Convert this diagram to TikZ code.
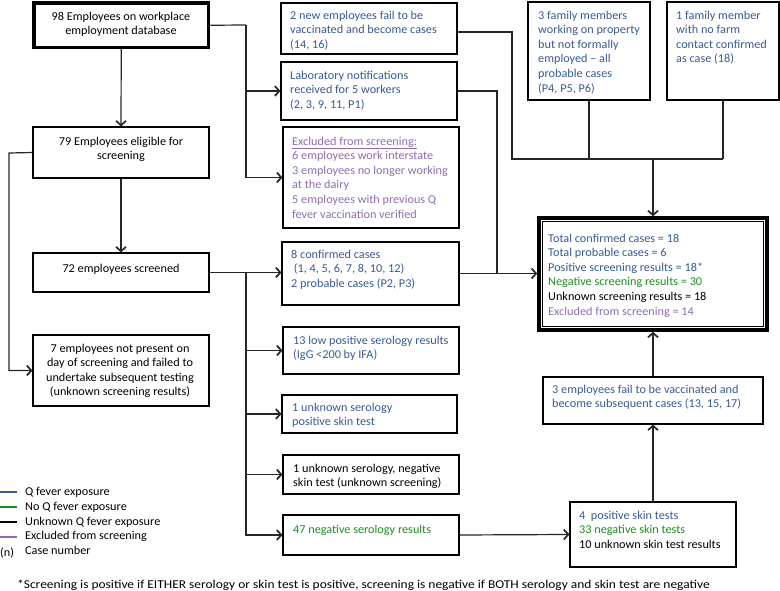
\documentclass[tikz,border=0pt]{standalone}
\usepackage{fontspec}
\setmainfont{Carlito}[FakeStretch=1.02]
\newfontfamily\footfont{Carlito}[FakeStretch=1.12]
\usetikzlibrary{arrows.meta,fit,calc}
\definecolor{qblue}{RGB}{55,90,145}
\definecolor{qgreen}{RGB}{30,140,30}
\definecolor{qpurple}{RGB}{140,110,175}
\newcommand\fs{\fontsize{12}{14.6}\selectfont}
\begin{document}
\begin{tikzpicture}[x=1pt,y=-1pt,
 box/.style={draw=black,line width=1.1pt,inner sep=0pt},
 txt/.style={font=\fs,inner sep=0pt,align=left,anchor=north west,execute at begin node=\strut},
 conn/.style={draw=black!85,line width=1.2pt},
 arr/.style={conn,-{Straight Barb[length=4.5pt,width=10pt,line width=1.7pt]}}]
\useasboundingbox (0,0) rectangle (780,591);

% boxes
\node[box,line width=3.5pt,fit={(34,3)(208.5,47.5)}] (A) {};
\node[box,fit={(33,127)(209,178)}] (B) {};
\node[box,fit={(33,253)(209,292)}] (L) {};
\node[box,fit={(33,335)(209,406)}] (M) {};
\node[box,fit={(281,3)(457,54)}] (C) {};
\node[box,fit={(281,62)(457,120)}] (E) {};
\node[box,fit={(283,127)(459,228)}] (F) {};
\node[box,fit={(282,242)(459,305)}] (G) {};
\node[box,fit={(283,327)(459,374)}] (H) {};
\node[box,fit={(282,395)(457,433)}] (I) {};
\node[box,fit={(283,455)(459,494)}] (J) {};
\node[box,fit={(283,515)(459,555)}] (K) {};
\node[box,fit={(528,2)(650,100)}] (P) {};
\node[box,fit={(667,2)(779,100)}] (Q) {};
\node[box,line width=3.5pt,fit={(539,218)(767,330)}] (D) {};
\node[box,line width=0.8pt,fit={(542.5,221.5)(763.5,326.5)}] (Din) {};
\node[box,fit={(543,377)(763,424)}] (O) {};
\node[box,fit={(570,502)(736,567)}] (N) {};

% connectors
\coordinate (t1) at (246,25);
\draw[conn] (A.east) -- (t1);
\draw[arr] (t1) |- (F.west);
\draw[arr] (t1 |- E.west) -- (E.west);
\draw[arr] (A.south) -- (B.north);
\draw[arr] (B.south) -- (L.north);
\coordinate (lp) at (9,153);
\draw[arr] (B.west) -- (lp) |- (M.west);

\coordinate (t2) at (246,273);
\draw[arr] (L.east) -- (L.east -| G.west);
\draw[arr] (t2) |- (K.west);
\draw[arr] (t2 |- H.west) -- (H.west);
\draw[arr] (t2 |- I.west) -- (I.west);
\draw[arr] (t2 |- J.west) -- (J.west);

\coordinate (c1) at (497,273.5);
\draw[conn] (E.east) -| (c1);
\draw[arr] (G.east) -- (G.east -| D.west);

\coordinate (j1) at (512,159);
\draw[conn] ([yshift=-3.5pt]C.east) -| (j1) -- (j1 -| Q.south);
\draw[conn] (P.south) -- (P.south |- j1);
\draw[conn] (Q.south) -- (Q.south |- j1);
\draw[arr] (j1 -| D.north) -- (D.north);
\draw[arr] (O.north) -- (D.south);
\draw[arr] (N.north) -- (O.south);
\draw[arr] (K.east) -- (N.west);

% texts
\node[txt,anchor=north,align=center] (At) at (121,11.5) {98 Employees on workplace\\employment database};
\node[txt,anchor=north,align=center] (Bt) at (121,136.5) {79 Employees eligible for\\screening};
\node[txt,anchor=north,align=center] (Lt) at (121,262) {72 employees screened};
\node[txt,anchor=north,align=center] (Mt) at (120,343.5) {7 employees not present on\\day of screening and failed to\\undertake subsequent testing\\(unknown screening results)};
\node[txt,text=qblue] (Ct) at (290,10.5) {2 new employees fail to be\\vaccinated and become cases\\(14, 16)};
\node[txt,text=qblue] (Et) at (290,70.5) {Laboratory notifications\\received for 5 workers\\(2, 3, 9, 11, P1)};
\node[txt,text=qpurple] (Ft) at (292,136.5) {\underline{Excluded from screening:}\\6 employees work interstate\\3 employees no longer working\\at the dairy\\5 employees with previous Q\\fever vaccination verified};
\node[txt,text=qblue] (Gt) at (291,249.5) {8 confirmed cases\\\ (1, 4, 5, 6, 7, 8, 10, 12)\\2 probable cases (P2, P3)};
\node[txt,text=qblue] (Ht) at (293,335.5) {13 low positive serology results\\(IgG <200 by IFA)};
\node[txt,text=qblue] (It) at (292,402.5) {1 unknown serology\\positive skin test};
\node[txt] (Jt) at (293,463.5) {1 unknown serology, negative\\skin test (unknown screening)};
\node[txt,text=qgreen] (Kt) at (293,523.5) {47 negative serology results};
\node[txt] (Dt) at (548,233.5) {\textcolor{qblue}{Total confirmed cases = 18}\\\textcolor{qblue}{Total probable cases = 6}\\\textcolor{qblue}{Positive screening results = 18*}\\\textcolor{qgreen}{Negative screening results = 30}\\Unknown screening results = 18\\\textcolor{qpurple}{Excluded from screening = 14}};
\node[txt,text=qblue] (Ot) at (552,384.5) {3 employees fail to be vaccinated and\\become subsequent cases (13, 15, 17)};
\node[txt] (Nt) at (579,510.5) {\textcolor{qblue}{4\ \ positive skin tests}\\\textcolor{qgreen}{33 negative skin tests}\\10 unknown skin test results};
\node[txt,text=qblue] (Pt) at (538,10.5) {3 family members\\working on property\\but not formally\\employed – all\\probable cases\\(P4, P5, P6)};
\node[txt,text=qblue] (Qt) at (676,10.5) {1 family member\\with no farm\\contact confirmed\\as case (18)};

% legend
\draw[line width=2pt,qblue] (0,492) -- (17,492);
\draw[line width=2pt,qgreen] (0,507) -- (17,507);
\draw[line width=2pt,black] (0,522) -- (17,522);
\draw[line width=2pt,qpurple] (0,536.5) -- (17,536.5);
\node[txt] (legt) at (25,487.5) {Q fever exposure\\No Q fever exposure\\Unknown Q fever exposure\\Excluded from screening\\Case number};
\node[txt] (legn) at (0,546) {(n)};

\node[txt,font=\fs\footfont] (foot) at (17,578.5) {*Screening is positive if EITHER serology or skin test is positive, screening is negative if BOTH serology and skin test are negative};
\end{tikzpicture}
\end{document}
